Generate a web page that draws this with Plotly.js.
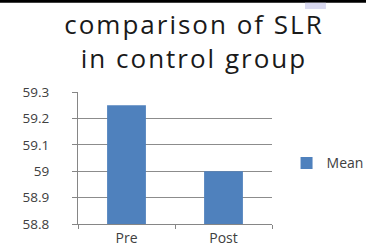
<!DOCTYPE html>
<html>
<head>
<meta charset="utf-8">
<script src="https://cdn.plot.ly/plotly-3.0.1.min.js"></script>
<style>
html,body{margin:0;padding:0;background:#fff;}
#chart{width:366px;height:246px;}
#chart .gtitle{letter-spacing:2px;}
</style>
</head>
<body>
<div id="chart"></div>
<script>
const categories = ["Pre", "Post"];
const meanValues = [59.25, 59.0];
const seriesName = "Mean";
const yTickVals = [58.8, 58.9, 59, 59.1, 59.2, 59.3];
const yTickText = ["58.8", "58.9", "59", "59.1", "59.2", "59.3"];

const trace = {
  type: "bar",
  x: categories,
  y: meanValues,
  name: seriesName,
  marker: {color: "#4f81bd"},
  showlegend: true
};

const layout = {
  width: 366, height: 246,
  margin: {l: 78, r: 94, t: 92, b: 22, pad: 0, autoexpand: false},
  paper_bgcolor: "#ffffff",
  plot_bgcolor: "#ffffff",
  bargap: 0.6,
  font: {family: "Open Sans, sans-serif", color: "#404040", size: 13},
  title: {
    text: "comparison of SLR<br>in control group",
    font: {family: "Open Sans, sans-serif", size: 26, color: "#1a1a1a"},
    x: 0.53, xanchor: "center", y: 0.86, yanchor: "top"
  },
  xaxis: {
    type: "category",
    showline: true, linecolor: "#868686", linewidth: 1,
    ticks: "outside", ticklen: 4, tickcolor: "#868686", tickson: "boundaries",
    showgrid: false, tickfont: {size: 14, color: "#404040"}, ticklabelstandoff: 1, automargin: false
  },
  yaxis: {
    range: [58.8, 59.3],
    tickvals: yTickVals, ticktext: yTickText,
    showline: true, linecolor: "#868686", linewidth: 1,
    ticks: "outside", ticklen: 5, tickcolor: "#868686",
    showgrid: true, gridcolor: "#8c8c8c", gridwidth: 1,
    zeroline: false, tickfont: {size: 13.5, color: "#404040"}, ticklabelstandoff: 20, automargin: false
  },
  legend: {
    x: 1.075, xanchor: "left", y: 0.46, yanchor: "middle",
    font: {size: 14, color: "#404040"},
    itemwidth: 30, bgcolor: "rgba(0,0,0,0)"
  },
  shapes: [
    {type: "rect", xref: "paper", yref: "paper", x0: -0.41, x1: 1.49, y0: 1.676, y1: 1.71, line: {width: 0}, fillcolor: "#000000"},
    {type: "rect", xref: "paper", yref: "paper", x0: 1.170, x1: 1.278, y0: 1.629, y1: 1.676, line: {width: 0}, fillcolor: "#d9d9f0"}
  ]
};

Plotly.newPlot("chart", [trace], layout, {displayModeBar: false, staticPlot: true});
</script>
</body>
</html>
